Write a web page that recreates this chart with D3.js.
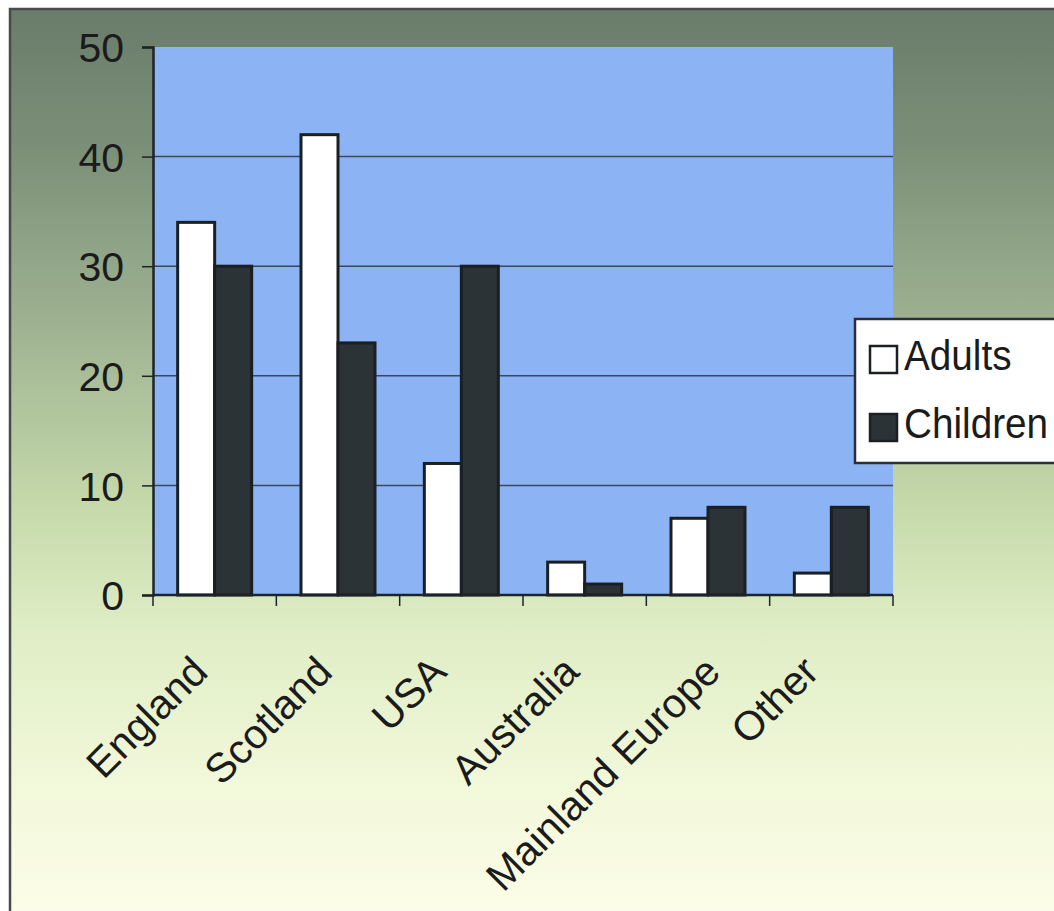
<!DOCTYPE html>
<html><head><meta charset="utf-8">
<script src="https://cdn.jsdelivr.net/npm/d3@7"></script>
<style>
html,body{margin:0;padding:0;background:#fff;}
svg{display:block;}
text{font-family:"Liberation Sans",Arial,Helvetica,sans-serif;fill:#1b1b1b;}
</style></head><body>
<svg id="c" width="1054" height="911"></svg>
<script>
const categories = ["England","Scotland","USA","Australia","Mainland Europe","Other"];
const seriesNames = ["Adults","Children"];
const adults = [34,42,12,3,7,2];
const children = [30,23,30,1,8,8];
const yTicks = [0,10,20,30,40,50];

const svg = d3.select("#c");
const W = 1054, H = 911;
const plot = {left:153, right:893, top:47, bottom:595};

const defs = svg.append("defs");
const grad = defs.append("linearGradient").attr("id","bg").attr("x1",0).attr("y1",0).attr("x2",0).attr("y2",1);
[[0,"#6a7c6a"],[0.15,"#7b8f78"],[0.35,"#9fb392"],[0.55,"#c6daab"],[0.68,"#dfedc5"],[0.85,"#f2f8da"],[1,"#fcfde8"]]
  .forEach(([o,c])=>grad.append("stop").attr("offset",o).attr("stop-color",c));

// background frame
svg.append("rect").attr("x",10).attr("y",9).attr("width",W).attr("height",H)
  .attr("fill","url(#bg)").attr("stroke","#4a4a4a").attr("stroke-width",2.5);

const x0 = d3.scaleBand().domain(categories).range([plot.left, plot.right]).paddingInner(0.4).paddingOuter(0.2);
const x1 = d3.scaleBand().domain(seriesNames).range([0, x0.bandwidth()]);
const y = d3.scaleLinear().domain([0,50]).range([plot.bottom, plot.top]);

// plot area
svg.append("rect").attr("x",plot.left).attr("y",plot.top)
  .attr("width",plot.right-plot.left).attr("height",plot.bottom-plot.top).attr("fill","#8cb4f4");

// gridlines
svg.append("g").selectAll("line").data(yTicks.filter(d=>d>0 && d<50)).join("line")
  .attr("x1",plot.left).attr("x2",plot.right).attr("y1",d=>y(d)).attr("y2",d=>y(d))
  .attr("stroke","#3a4758").attr("stroke-width",1.5);

// bars
const data = categories.map((c,i)=>({c, vals:[{s:"Adults",v:adults[i]},{s:"Children",v:children[i]}]}));
const fills = {Adults:"#ffffff", Children:"#2c3336"};
const g = svg.append("g");
g.selectAll("g").data(data).join("g")
  .attr("transform",d=>`translate(${x0(d.c)},0)`)
  .selectAll("rect").data(d=>d.vals).join("rect")
  .attr("x",d=>x1(d.s)).attr("width",x1.bandwidth())
  .attr("y",d=>y(d.v)).attr("height",d=>y(0)-y(d.v))
  .attr("fill",d=>fills[d.s]).attr("stroke","#1a1f24").attr("stroke-width",3);

// y axis
const yAxis = d3.axisLeft(y).tickValues(yTicks).tickSize(11).tickPadding(18);
const ya = svg.append("g").attr("transform",`translate(${plot.left},0)`).call(yAxis);
ya.select(".domain").attr("stroke","#1e2328").attr("stroke-width",2.5);
ya.selectAll(".tick line").attr("stroke","#1e2328").attr("stroke-width",1.5);
ya.selectAll(".tick text").attr("font-size",41).attr("font-family",null).attr("fill","#1b1b1b").attr("dy","0.36em");

// x axis line & ticks at category boundaries
const bounds = d3.range(categories.length+1).map(i=>plot.left + i*(plot.right-plot.left)/categories.length);
svg.append("line").attr("x1",plot.left).attr("x2",plot.right).attr("y1",plot.bottom).attr("y2",plot.bottom)
  .attr("stroke","#1e2328").attr("stroke-width",2.5);
svg.append("g").selectAll("line").data(bounds).join("line")
  .attr("x1",d=>d).attr("x2",d=>d).attr("y1",plot.bottom).attr("y2",plot.bottom+11)
  .attr("stroke","#1e2328").attr("stroke-width",1.5);

// x labels rotated
const labels = svg.append("g").selectAll("text").data(categories).join("text")
  .attr("font-size",41).attr("text-anchor","end")
  .text(d=>d);
labels.each(function(d){
  const len = this.getComputedTextLength();
  const cx = x0(d) + x0.bandwidth()/2 + 3 + 0.12*(len - 215);
  d3.select(this).attr("transform",`translate(${cx},${plot.bottom+79}) rotate(-45)`);
});

// legend
const lg = svg.append("g");
lg.append("rect").attr("x",855).attr("y",319).attr("width",230).attr("height",144)
  .attr("fill","#ffffff").attr("stroke","#2a2f35").attr("stroke-width",2.5);
const items = lg.selectAll("g").data(seriesNames).join("g")
  .attr("transform",(d,i)=>`translate(0,${i*68})`);
items.append("rect").attr("x",870).attr("y",346).attr("width",27).attr("height",27)
  .attr("fill",d=>fills[d]).attr("stroke","#1a1f24").attr("stroke-width",2.5);
items.append("text").attr("transform","translate(904,370) scale(0.9,1)").attr("font-size",43).text(d=>d);
</script>
</body></html>
